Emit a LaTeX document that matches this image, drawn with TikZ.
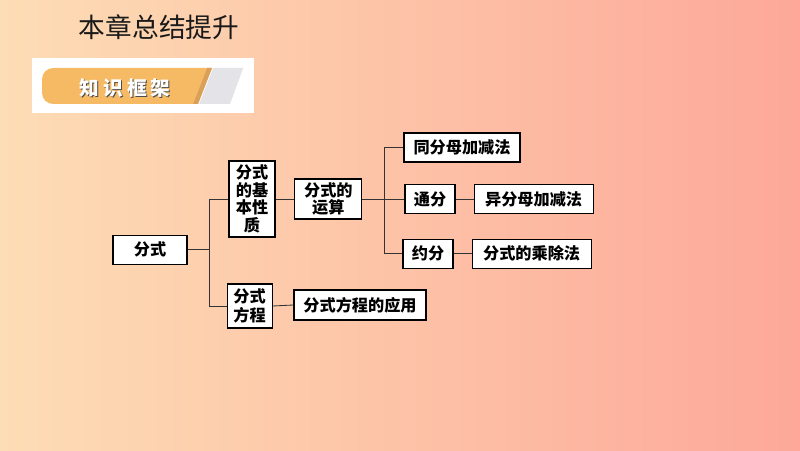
\documentclass[tikz,border=0pt]{standalone}
\usepackage{fontspec}
\usepackage{tikz}
\newfontfamily\cjk{Noto Sans CJK SC}
\definecolor{bgleft}{HTML}{FDDDB5}
\definecolor{bgright}{HTML}{FDA899}
\definecolor{tagorange}{HTML}{F6B964}
\definecolor{tagedge}{HTML}{D9A05A}
\definecolor{taggray}{HTML}{E4E4E8}
\tikzset{
  box/.style={draw=black, fill=white, thick, inner sep=0pt, font=\cjk\bfseries\fontsize{11.5}{12.5}\selectfont, align=center},
  link/.style={draw=black!80, semithick}
}

\begin{document}
\begin{tikzpicture}[scale=1.0]
  \useasboundingbox (0,0) rectangle (20,11.25);
  \shade[left color=bgleft, right color=bgright] (0,0) rectangle (20,11.25);

  % title and tag
  \node[font=\cjk\fontsize{19}{22}\selectfont, text=black!90] (title) at (3.975,10.575) {本章总结提升};
  \fill[white] (0.8,8.425) rectangle (6.35,9.8);
  \fill[tagorange] (5.3,9.55) -- (4.95,8.65) {[rounded corners=8pt] -- (1.05,8.65) -- (1.05,9.55)} -- cycle;
  \fill[tagedge] (5.18,9.55) -- (5.3,9.55) -- (4.95,8.65) -- (4.83,8.65) -- cycle;
  \fill[taggray] (5.33,9.55) -- (6.08,9.55) -- (5.75,8.65) -- (4.98,8.65) -- cycle;
  \node[font=\cjk\bfseries\fontsize{14}{16}\selectfont, text=black!70] at (3.15,9.02) {知\hspace{3pt}识\hspace{3pt}框\hspace{3pt}架};
  \node[font=\cjk\bfseries\fontsize{14}{16}\selectfont, text=white] (tag) at (3.125,9.05) {知\hspace{3pt}识\hspace{3pt}框\hspace{3pt}架};

  % boxes
  \node[box, minimum width=1.85cm, minimum height=0.725cm] (fenshi) at (3.75,5.01) {分式};
  \node[box, minimum width=1.15cm, minimum height=1.9cm] (xingzhi) at (6.3,6.275) {分式\\的基\\本性\\质};
  \node[box, minimum width=1.675cm, minimum height=1.0cm, font=\cjk\bfseries\fontsize{11.5}{11.5}\selectfont] (yunsuan) at (8.21,6.275) {分式的\\运算};
  \node[box, minimum width=2.9cm, minimum height=0.725cm] (tongmu) at (11.55,7.5625) {同分母加减法};
  \node[box, minimum width=1.25cm, minimum height=0.725cm] (tongfen) at (10.75,6.275) {通分};
  \node[box, minimum width=2.975cm, minimum height=0.725cm] (yimu) at (13.34,6.275) {异分母加减法};
  \node[box, minimum width=1.25cm, minimum height=0.725cm] (yuefen) at (10.7,4.91) {约分};
  \node[box, minimum width=2.975cm, minimum height=0.725cm] (chengchu) at (13.29,4.91) {分式的乘除法};
  \node[box, minimum width=1.125cm, minimum height=1.1cm, font=\cjk\bfseries\fontsize{11.5}{13}\selectfont] (fangcheng) at (6.24,3.6) {分式\\方程};
  \node[box, minimum width=3.3cm, minimum height=0.75cm] (yingyong) at (9.0,3.625) {分式方程的应用};

  % connectors
  \draw[link] (fenshi.east) -- (5.225,5.01) coordinate (j1);
  \draw[link] (j1) |- (xingzhi.west);
  \draw[link] (j1) |- (fangcheng.west);
  \draw[link] (xingzhi.east) -- (yunsuan.west);
  \draw[link] (yunsuan.east) -- (9.6,6.275) coordinate (j2);
  \draw[link] (j2) |- (tongmu.west);
  \draw[link] (j2) |- (yuefen.west);
  \draw[link] (j2) -- (tongfen.west);
  \draw[link] (tongfen.east) -- (yimu.west);
  \draw[link] (yuefen.east) -- (chengchu.west);
  \draw[link] (fangcheng.east) -- (yingyong.west);
\end{tikzpicture}
\end{document}
